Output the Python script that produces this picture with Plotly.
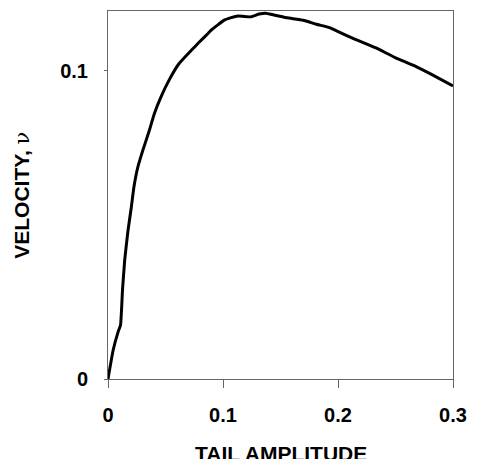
import plotly.graph_objects as go

# tail amplitude vs swimming velocity
tail_amplitude = [0.0, 0.0045, 0.0088, 0.0109, 0.0126, 0.0145, 0.0174, 0.0203, 0.0225,
                  0.0259, 0.0302, 0.0359, 0.0402, 0.0459, 0.0530, 0.0615, 0.0729, 0.0786,
                  0.0872, 0.0900, 0.1015, 0.1128, 0.1242, 0.1314, 0.1370, 0.1442, 0.1556,
                  0.1698, 0.1812, 0.1926, 0.1997, 0.2126, 0.2325, 0.2496, 0.2667, 0.2809,
                  0.3000]
velocity = [0.0, 0.0094, 0.0153, 0.0175, 0.0288, 0.0385, 0.0482, 0.0558, 0.0622,
            0.0687, 0.0741, 0.0806, 0.0860, 0.0914, 0.0969, 0.1022, 0.1068, 0.1090,
            0.1122, 0.1133, 0.1165, 0.1178, 0.1175, 0.1184, 0.1187, 0.1181, 0.1172,
            0.1164, 0.1151, 0.1140, 0.1128, 0.1106, 0.1075, 0.1043, 0.1016, 0.0989,
            0.0951]

x_ticks = [0, 0.1, 0.2, 0.3]
x_tick_labels = ["0", "0.1", "0.2", "0.3"]
y_ticks = [0, 0.1]
y_tick_labels = ["0", "0.1"]

FONT = "Liberation Sans, Arial, sans-serif"

fig = go.Figure()
fig.add_trace(go.Scatter(
    x=tail_amplitude, y=velocity, mode="lines",
    line=dict(color="black", width=3, shape="spline", smoothing=0.4),
    showlegend=False, hoverinfo="skip",
))

axis_common = dict(
    showgrid=False, zeroline=False,
    showline=True, linecolor="#666", linewidth=1, mirror=True,
    ticks="outside", tickcolor="#666", tickwidth=1,
    ticklabeloverflow="allow",
    tickfont=dict(family=FONT, size=20, color="black", weight="bold"),
)
fig.update_xaxes(range=[0, 0.3], tickvals=x_ticks, ticktext=x_tick_labels,
                 ticklen=8, ticklabelstandoff=10, **axis_common)
fig.update_yaxes(range=[0, 0.1194], tickvals=y_ticks, ticktext=y_tick_labels,
                 ticklen=3, ticklabelstandoff=12, **axis_common)

# axis titles placed as annotations
fig.add_annotation(
    text="TAIL AMPLITUDE", xref="paper", yref="paper", x=0.5, y=-0.203,
    yanchor="middle", showarrow=False,
    font=dict(family=FONT, size=21, color="black", weight="bold"),
)
fig.add_annotation(
    text="VELOCITY, <span style='font-family:DejaVu Serif;font-weight:normal'>ν</span>",
    xref="paper", yref="paper", x=-0.25, y=0.5, textangle=-90,
    xanchor="center", showarrow=False,
    font=dict(family=FONT, size=21, color="black", weight="bold"),
)

# figure + 8px body margin on each side fills the 477x467 window without scrolling
fig.update_layout(
    width=461, height=451, autosize=False,
    margin=dict(l=100, r=10, t=2, b=80),
    plot_bgcolor="white", paper_bgcolor="white",
)

# let the 0.3 label and the x title spill past the svg edge instead of being clipped
fig.write_html(
    "out.html",
    config={"displayModeBar": False},
    post_script=(
        "document.body.style.overflow='hidden';"
        "document.querySelectorAll('svg').forEach(s => s.style.overflow='visible');"
    ),
)
